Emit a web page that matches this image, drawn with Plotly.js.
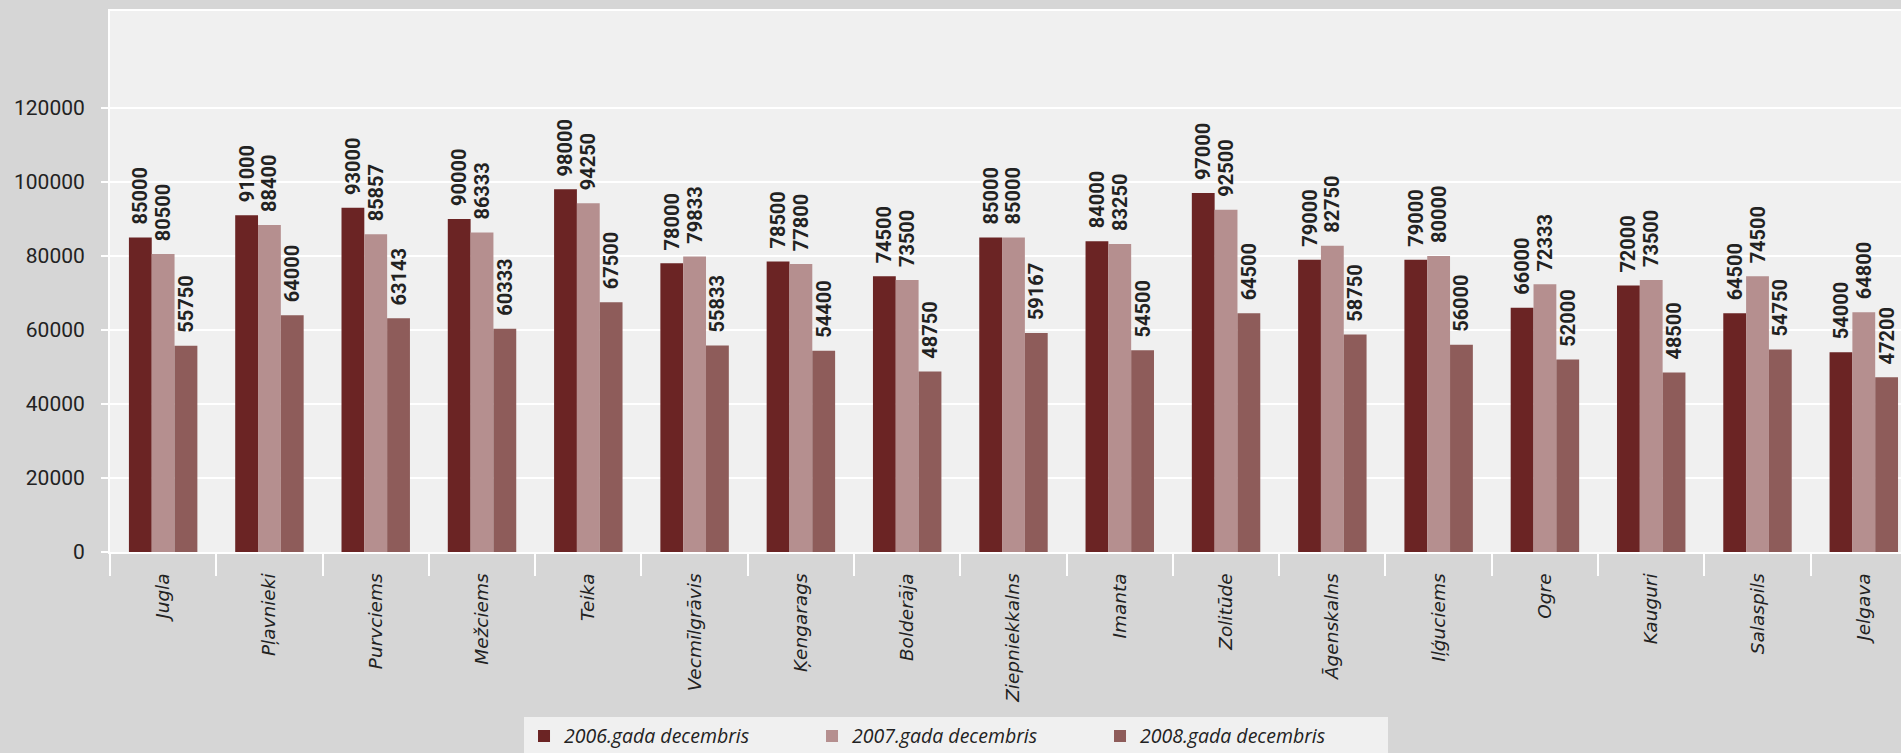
<!DOCTYPE html>
<html>
<head>
<meta charset="utf-8">
<script src="https://cdn.plot.ly/plotly-3.0.1.min.js"></script>
<style>
  html, body { margin: 0; padding: 0; background: #d6d6d6; overflow: hidden; }
  #chart { width: 1901px; height: 753px; }
</style>
</head>
<body>
<div id="chart"></div>
<script>
const categories = ["Jugla", "Pļavnieki", "Purvciems", "Mežciems", "Teika", "Vecmīlgrāvis", "Ķengarags", "Bolderāja", "Ziepniekkalns", "Imanta", "Zolitūde", "Āgenskalns", "Iļģuciems", "Ogre", "Kauguri", "Salaspils", "Jelgava"];
const seriesNames = ["2006.gada decembris", "2007.gada decembris", "2008.gada decembris"];
const values2006 = [85000, 91000, 93000, 90000, 98000, 78000, 78500, 74500, 85000, 84000, 97000, 79000, 79000, 66000, 72000, 64500, 54000];
const values2007 = [80500, 88400, 85857, 86333, 94250, 79833, 77800, 73500, 85000, 83250, 92500, 82750, 80000, 72333, 73500, 74500, 64800];
const values2008 = [55750, 64000, 63143, 60333, 67500, 55833, 54400, 48750, 59167, 54500, 64500, 58750, 56000, 52000, 48500, 54750, 47200];
const colors = ["#6b2424", "#b58f8f", "#8e5c5a"];
const yTicks = [0, 20000, 40000, 60000, 80000, 100000, 120000];

const allValues = [values2006, values2007, values2008];
const traces = allValues.map((vals, i) => ({
  type: "bar",
  name: seriesNames[i],
  x: categories,
  y: vals,
  marker: { color: colors[i], line: { width: 0 } },
  text: vals.map(v => "\u00a0\u00a0" + v),
  textposition: "outside",
  textangle: -90,
  constraintext: "none",
  cliponaxis: false,
  textfont: { family: "Roboto", size: 20, color: "#222222", weight: 700 },
  hoverinfo: "none"
}));

const layout = {
  width: 1901,
  height: 753,
  paper_bgcolor: "#d6d6d6",
  plot_bgcolor: "#f0f0f0",
  margin: { l: 110, r: 0, t: 11, b: 201, pad: 0 },
  barmode: "group",
  bargap: 0.356,
  bargroupgap: 0,
  showlegend: true,
  legend: {
    orientation: "h",
    xref: "container",
    yref: "container",
    x: 0.5029,
    xanchor: "center",
    y: 0.0482,
    yanchor: "top",
    bgcolor: "#f0f0f0",
    borderwidth: 0,
    entrywidth: 243,
    entrywidthmode: "pixels",
    font: { family: "Open Sans", size: 19.5, color: "#222222", style: "italic" }
  },
  xaxis: {
    type: "category",
    range: [-0.5, 16.35],
    showgrid: false,
    showline: true,
    linecolor: "#ffffff",
    linewidth: 2,
    mirror: true,
    ticks: "outside",
    tickson: "boundaries",
    ticklen: 22,
    tickwidth: 2,
    tickcolor: "#ffffff",
    tickangle: -90,
    ticklabelstandoff: 12,
    automargin: false,
    tickfont: { family: "DejaVu Sans", size: 18.5, color: "#222222", style: "italic" }
  },
  yaxis: {
    range: [0, 146200],
    tickvals: yTicks,
    ticktext: yTicks.map(String),
    showgrid: true,
    gridcolor: "#ffffff",
    gridwidth: 2,
    zeroline: false,
    showline: true,
    linecolor: "#ffffff",
    linewidth: 2,
    ticks: "outside",
    ticklen: 7,
    tickwidth: 2,
    tickcolor: "#ffffff",
    ticklabelstandoff: 12,
    automargin: false,
    tickfont: { family: "Roboto", size: 21, color: "#222222" }
  },
  font: { family: "Roboto", color: "#222222" }
};

Plotly.newPlot("chart", traces, layout, { displayModeBar: false, staticPlot: true });
</script>
</body>
</html>
